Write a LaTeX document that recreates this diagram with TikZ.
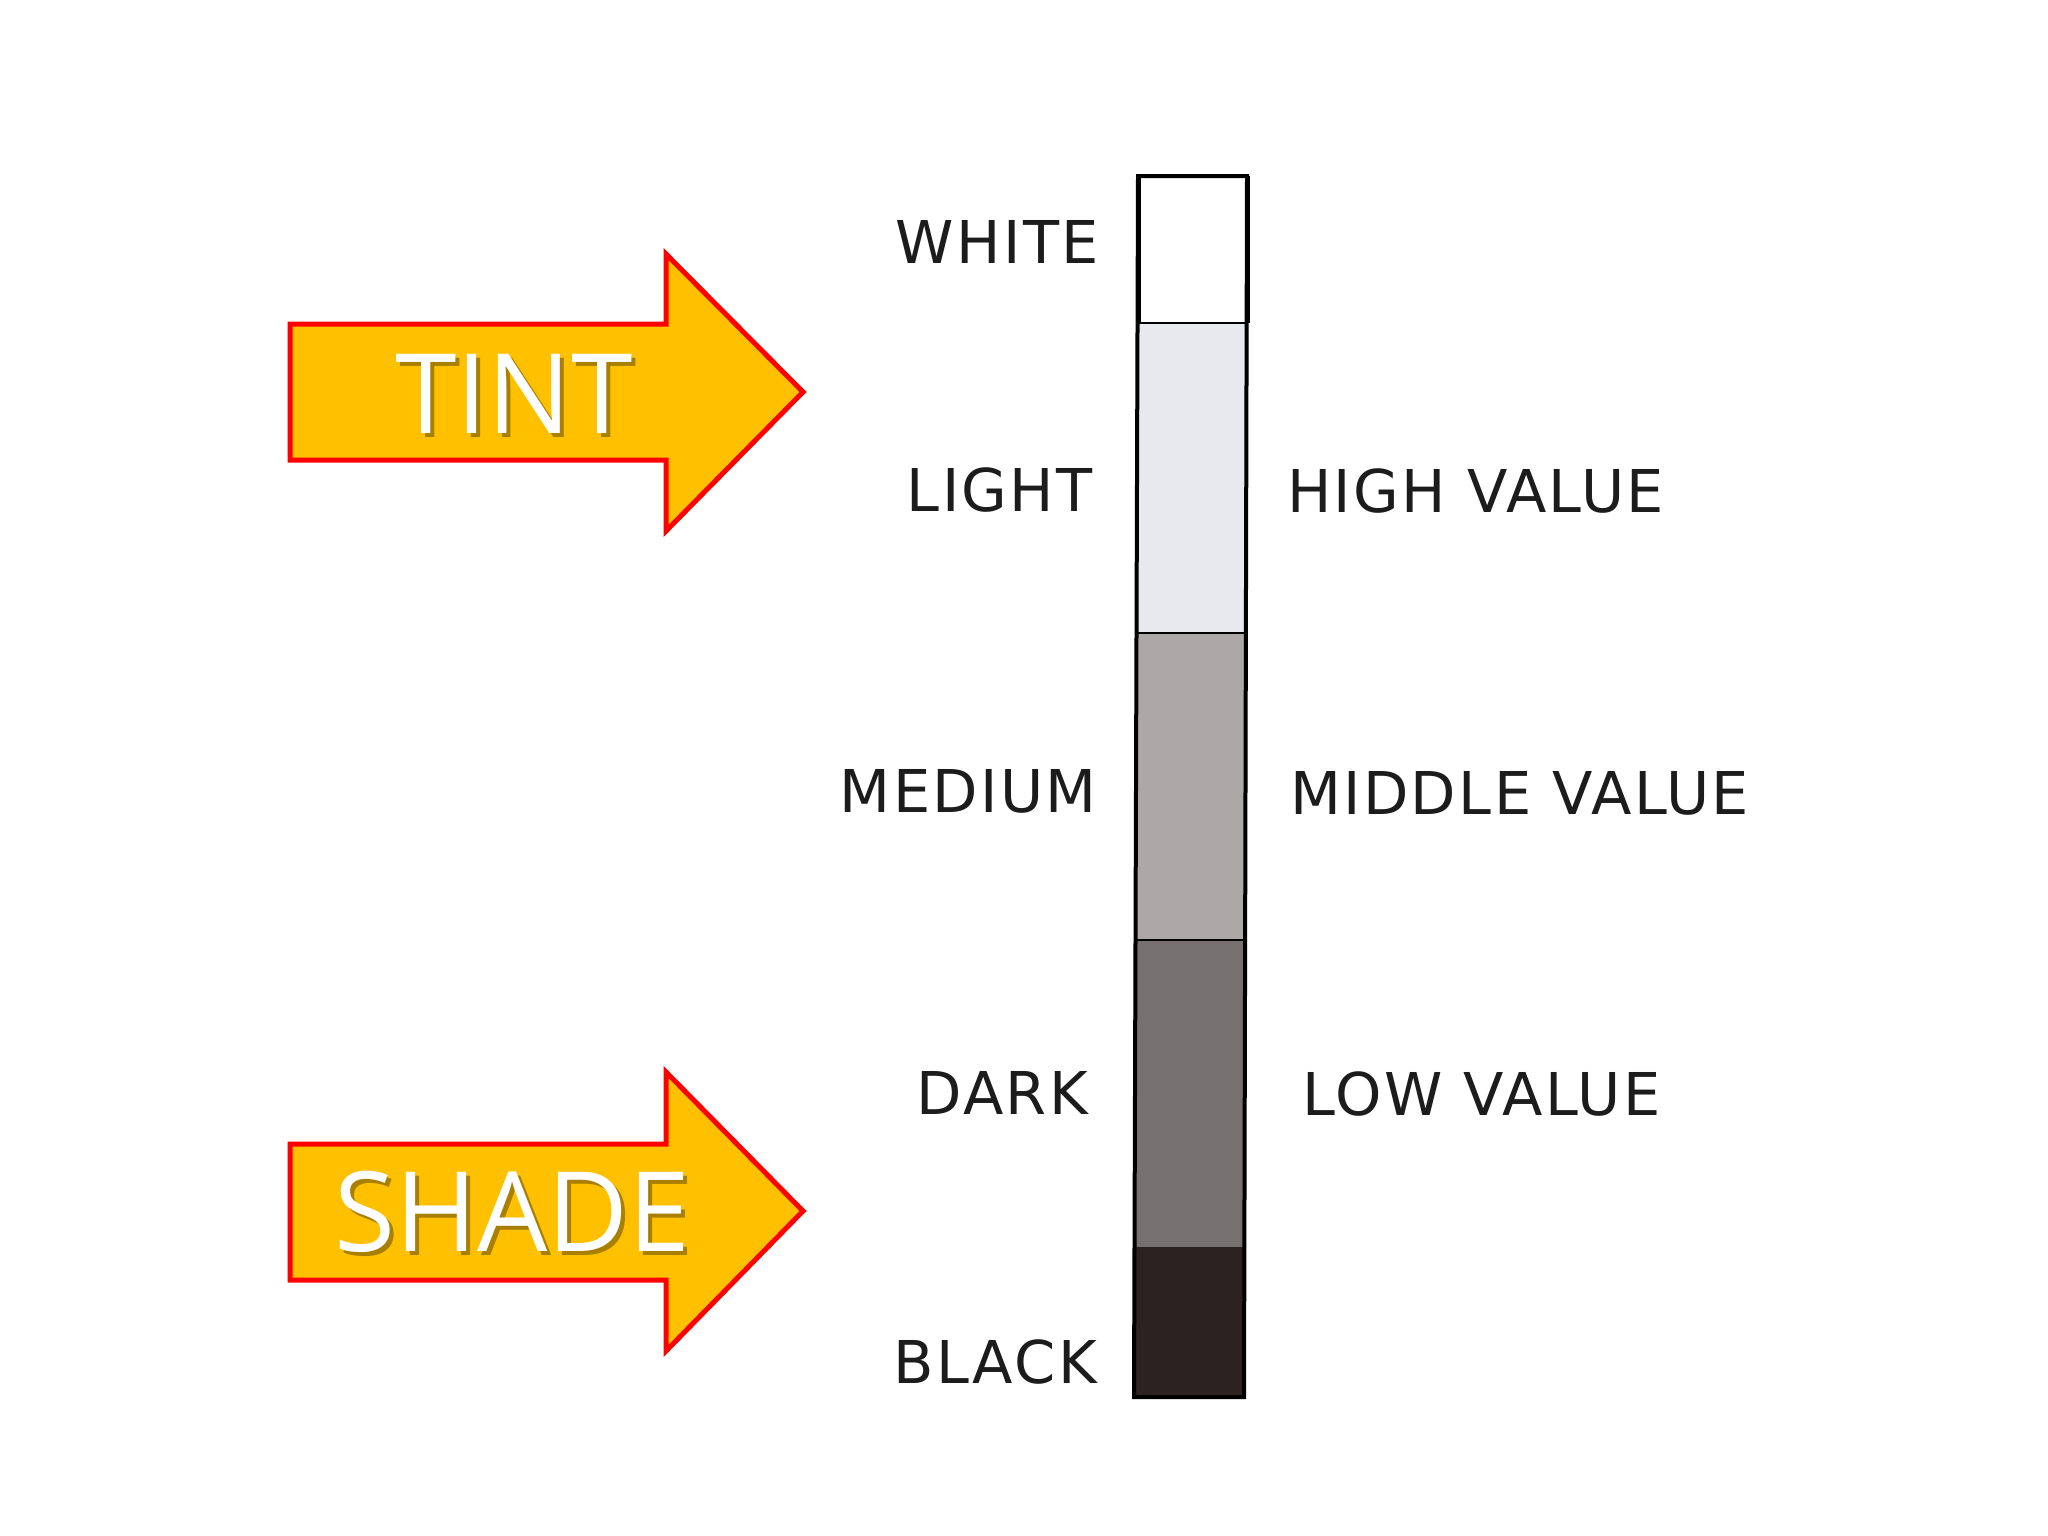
\documentclass[tikz,border=0pt]{standalone}
\usepackage{fontspec}
\newfontfamily\labfont[LetterSpace=4]{DejaVu Sans}
\newfontfamily\arrfont{Open Sans}
\definecolor{arrfill}{HTML}{FFC000}
\definecolor{arrline}{HTML}{FF0000}
\definecolor{segwhite}{HTML}{FFFFFF}
\definecolor{seglight}{HTML}{E7E9EF}
\definecolor{segmed}{HTML}{ADA8A8}
\definecolor{segdark}{HTML}{767070}
\definecolor{segblack}{HTML}{2C2321}
\definecolor{labgray}{HTML}{1C1C1C}
\definecolor{shadowcol}{HTML}{6E5500}
\tikzset{
  bigarrow/.style={fill=arrfill, draw=arrline, line width=5pt, line join=miter},
  arrtext/.style={text=white, font=\arrfont\fontsize{111}{116}\selectfont, inner sep=0pt},
  arrshadow/.style={text=shadowcol, text opacity=0.6, font=\arrfont\fontsize{111}{116}\selectfont, inner sep=0pt},
  leftlab/.style={anchor=east, text=labgray, font=\labfont\fontsize{59}{62}\selectfont, inner sep=0pt},
  rightlab/.style={anchor=west, text=labgray, font=\labfont\fontsize{59}{62}\selectfont, inner sep=0pt},
  seg/.style={draw=black, line width=2pt},
}
\begin{document}
\begin{tikzpicture}[x=1pt,y=-1pt]
\useasboundingbox (0,0) rectangle (2048,1536);
\fill[white] (0,0) rectangle (2048,1536);

% TINT arrow
\draw[bigarrow] (290,324) -- (666,324) -- (666,254) -- (803,392) -- (666,531) -- (666,460) -- (290,460) -- cycle;
\node[arrshadow] (tintsh) at (518,398) {TINT};
\node[arrtext] (tint) at (514,394) {TINT};

% SHADE arrow
\draw[bigarrow] (290,1144) -- (666,1144) -- (666,1072) -- (803,1211) -- (666,1351) -- (666,1280) -- (290,1280) -- cycle;
\node[arrshadow] (shadesh) at (516,1216) {SHADE};
\node[arrtext] (shade) at (512,1212) {SHADE};

% value bar
\fill[segwhite] (1138,176) rectangle (1247,323);
\fill[seglight] (1138,323) rectangle (1245,633);
\fill[segmed] (1137,633) rectangle (1244,940);
\fill[segdark] (1136,940) rectangle (1244,1247);
\fill[segblack] (1135,1247) rectangle (1244,1397);
\draw[seg] (1138,323) -- (1246,323);
\draw[seg] (1137,633) -- (1245,633);
\draw[seg] (1136,940) -- (1245,940);
\draw[black, line width=4pt, line join=miter] (1138,176) -- (1247,176) -- (1244,1397) -- (1134,1397) -- cycle;
\draw[black, line width=5pt] (1138,176) -- (1138,323);
\draw[black, line width=5pt] (1247,176) -- (1247,323);

% left labels
\node[leftlab] (white) at (1099,242) {WHITE};
\node[leftlab] (light) at (1093,490) {LIGHT};
\node[leftlab] (medium) at (1097,791) {MEDIUM};
\node[leftlab] (dark) at (1088,1093) {DARK};
\node[leftlab] (black) at (1097,1362) {BLACK};

% right labels
\node[rightlab] (high) at (1287,491) {HIGH VALUE};
\node[rightlab] (middle) at (1290,793) {MIDDLE VALUE};
\node[rightlab] (low) at (1302,1094) {LOW VALUE};
\end{tikzpicture}
\end{document}
